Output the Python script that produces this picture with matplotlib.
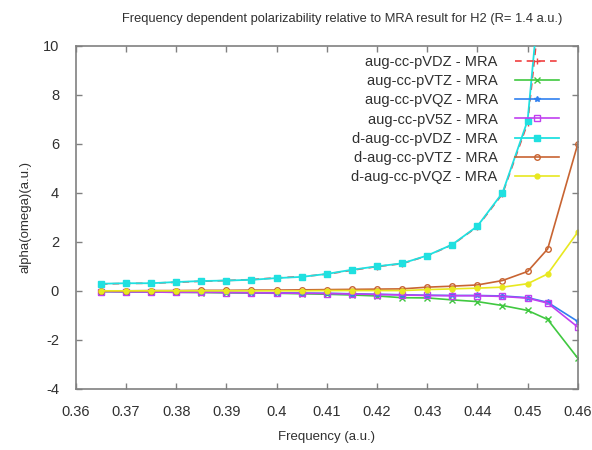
import numpy as np
import matplotlib
matplotlib.use("Agg")
import matplotlib.pyplot as plt

plt.rcParams['font.family'] = ['Liberation Sans', 'DejaVu Sans']
plt.rcParams['axes.unicode_minus'] = False

freq = [0.365, 0.37, 0.375, 0.38, 0.385, 0.39, 0.395, 0.40, 0.405, 0.41,
        0.415, 0.42, 0.425, 0.43, 0.435, 0.44, 0.445, 0.45, 0.454, 0.46]

adz = [0.28, 0.30, 0.31, 0.35, 0.39, 0.42, 0.46, 0.53, 0.58, 0.68,
       0.84, 0.99, 1.11, 1.43, 1.88, 2.62, 3.96, 6.85, 14.5, 40.0]
atz = [-0.03, -0.04, -0.05, -0.06, -0.07, -0.08, -0.09, -0.10, -0.12, -0.14,
       -0.17, -0.21, -0.28, -0.29, -0.37, -0.44, -0.60, -0.80, -1.17, -2.75]
aqz = [-0.02, -0.03, -0.04, -0.05, -0.05, -0.06, -0.07, -0.08, -0.09, -0.10,
       -0.12, -0.14, -0.16, -0.18, -0.19, -0.19, -0.21, -0.28, -0.47, -1.25]
a5z = [-0.03, -0.04, -0.05, -0.06, -0.06, -0.07, -0.08, -0.09, -0.10, -0.11,
       -0.13, -0.15, -0.17, -0.19, -0.20, -0.20, -0.23, -0.30, -0.50, -1.48]
ddz = [0.29, 0.31, 0.31, 0.36, 0.40, 0.42, 0.45, 0.52, 0.57, 0.69,
       0.86, 1.00, 1.12, 1.44, 1.89, 2.64, 4.00, 6.95, 15.7, 40.0]
dtz = [0.00, 0.00, 0.01, 0.01, 0.02, 0.02, 0.03, 0.03, 0.04, 0.05,
       0.06, 0.07, 0.08, 0.15, 0.19, 0.24, 0.42, 0.79, 1.71, 6.00]
dqz = [0.00, 0.00, 0.00, 0.00, 0.00, 0.00, 0.00, 0.00, 0.00, 0.01,
       0.01, 0.01, 0.01, 0.05, 0.08, 0.11, 0.15, 0.29, 0.69, 2.40]

txt = '#303030'
fig = plt.figure(figsize=(5.92, 4.5), dpi=100)
ax = fig.add_axes([0.128, 0.136, 0.848, 0.762])

ax.plot(freq, adz, color='#f04040', marker='+', ms=4, lw=1.2, ls=(0, (4, 3)), label='aug-cc-pVDZ - MRA', zorder=3)
ax.plot(freq, atz, color='#40c840', marker='x', ms=4, lw=1.2, label='aug-cc-pVTZ - MRA')
ax.plot(freq, aqz, color='#3080f0', marker='*', ms=4, lw=1.2, label='aug-cc-pVQZ - MRA')
ax.plot(freq, a5z, color='#c040f0', marker='s', ms=4.5, mfc='none', lw=1.2, label='aug-cc-pV5Z - MRA')
ax.plot(freq, ddz, color='#20e0e0', marker='s', ms=4.5, lw=1.3, label='d-aug-cc-pVDZ - MRA', zorder=4)
ax.plot(freq, dtz, color='#c86432', marker='o', ms=4, mfc='none', lw=1.2, label='d-aug-cc-pVTZ - MRA')
ax.plot(freq, dqz, color='#e8e820', marker='o', ms=3.5, lw=1.2, label='d-aug-cc-pVQZ - MRA')

ax.set_xlim(0.36, 0.46)
ax.set_ylim(-4, 10)
ax.set_xticks(np.arange(0.36, 0.4601, 0.01))
ax.set_xticklabels(['0.36', '0.37', '0.38', '0.39', '0.4', '0.41', '0.42',
                    '0.43', '0.44', '0.45', '0.46'])
ax.set_yticks(range(-4, 11, 2))
ax.tick_params(direction='in', length=4, width=1, color='#808080',
               top=True, right=True, labelsize=10.5, labelcolor=txt)
ax.tick_params(axis='x', pad=12)
ax.tick_params(axis='y', pad=12)
for s in ax.spines.values():
    s.set_color('#808080')
    s.set_linewidth(1.2)

ax.set_xlabel('Frequency (a.u.)', fontsize=9.5, labelpad=8, color=txt)
ax.set_ylabel('alpha(omega)(a.u.)', fontsize=9.5, labelpad=8, color=txt)
fig.text(0.578, 0.958, 'Frequency dependent polarizability relative to MRA result for H2 (R= 1.4 a.u.)',
         ha='center', va='center', fontsize=9.3, color=txt)

leg = ax.legend(loc='upper right', bbox_to_anchor=(0.974, 0.991),
                frameon=False, markerfirst=False,
                fontsize=10.5, handlelength=3.0, labelspacing=0.36,
                borderaxespad=0, handletextpad=1.2)
for t in leg.get_texts():
    t.set_color(txt)

fig.savefig('out.png', dpi=100)
